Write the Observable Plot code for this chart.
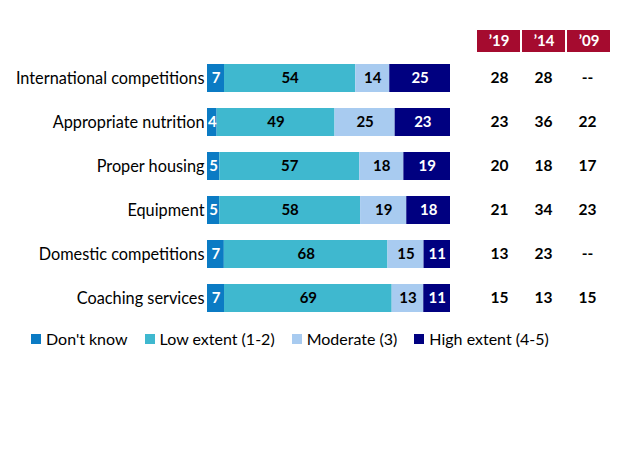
<!DOCTYPE html>
<html>
<head>
<meta charset="utf-8">
<script src="https://cdn.jsdelivr.net/npm/d3@7"></script>
<script src="https://cdn.jsdelivr.net/npm/@observablehq/plot@0.6"></script>
<style>
  body { margin: 0; background: #fff; }
  #wrap { position: relative; width: 624px; height: 468px; background: #fff; font-family: Lato, "Open Sans", sans-serif; }
  #wrap > div { position: absolute; margin: 0; }
  #bars { left: 0; top: 0; }
  #table { left: 0; top: 0; }
  #header { left: 0; top: 30px; }
  #legend { left: 31px; top: 322px; }
</style>
</head>
<body>
<div id="wrap">
  <div id="bars"></div>
  <div id="table"></div>
  <div id="header"></div>
  <div id="legend"></div>
</div>
<script>
const categories = ["International competitions", "Appropriate nutrition", "Proper housing", "Equipment", "Domestic competitions", "Coaching services"];
const series = ["Don't know", "Low extent (1-2)", "Moderate (3)", "High extent (4-5)"];
const seriesColors = ["#0b7bc4", "#3fb8cf", "#a8cbf0", "#000080"];
const darkSeries = ["Don't know", "High extent (4-5)"];
const dontKnow = [7, 4, 5, 5, 7, 7];
const lowExtent = [54, 49, 57, 58, 68, 69];
const moderate = [14, 25, 18, 19, 15, 13];
const highExtent = [25, 23, 19, 18, 11, 11];
const years = ["\u201919", "\u201914", "\u201909"];
const y2019 = [28, 23, 20, 21, 13, 15];
const y2014 = [28, 36, 18, 34, 23, 13];
const y2009 = ["--", 22, 17, 23, "--", 15];

const seriesValues = [dontKnow, lowExtent, moderate, highExtent];
const rows = categories.flatMap((c, i) => series.map((s, j) => ({category: c, series: s, value: seriesValues[j][i]})));
const yearValues = [y2019, y2014, y2009];
const tableRows = categories.flatMap((c, i) => years.map((yr, j) => ({category: c, year: yr, v: yearValues[j][i]})));

const H = 330, MT = 53.6, MB = 7.6;
const yOpts = {domain: categories, paddingInner: 0.375, paddingOuter: 0.1875, label: null};
const font = "Lato, 'Open Sans', sans-serif";

const stackOpts = {offset: "normalize", x: "value", y: "category", order: series};

const bars = Plot.plot({
  width: 460, height: H, marginLeft: 207, marginRight: 10, marginTop: MT, marginBottom: MB,
  style: {fontFamily: font, color: "#000", background: "transparent"},
  x: {domain: [0, 1], axis: null},
  y: {...yOpts, axis: null},
  color: {domain: series, range: seriesColors},
  marks: [
    Plot.barX(rows, Plot.stackX({...stackOpts, fill: "series"})),
    Plot.text(rows, Plot.filter(d => darkSeries.includes(d.series), Plot.stackX({...stackOpts, z: "series", text: "value", fill: "white", fontWeight: "bold", fontSize: 15}))),
    Plot.text(rows, Plot.filter(d => !darkSeries.includes(d.series), Plot.stackX({...stackOpts, z: "series", text: "value", fill: "black", fontWeight: "bold", fontSize: 15}))),
    Plot.axisY({tickSize: 0, tickPadding: 3, fontSize: 16.3, fill: "#000"})
  ]
});
document.getElementById("bars").appendChild(bars);

const table = Plot.plot({
  width: 624, height: H, marginLeft: 476, marginRight: 14, marginTop: MT, marginBottom: MB,
  style: {fontFamily: font, color: "#000", background: "transparent"},
  x: {domain: years, axis: null, paddingInner: 0.05, paddingOuter: 0},
  y: {...yOpts, axis: null},
  marks: [
    Plot.text(tableRows, {x: "year", y: "category", text: "v", fontWeight: "bold", fontSize: 15.5, fill: "black"})
  ]
});
document.getElementById("table").appendChild(table);

const header = Plot.plot({
  width: 624, height: 22, marginLeft: 476, marginRight: 14, marginTop: 0, marginBottom: 0,
  style: {fontFamily: font, background: "transparent"},
  x: {domain: years, axis: null, paddingInner: 0.05, paddingOuter: 0},
  marks: [
    Plot.cell(years, {x: d => d, fill: "#a50b2f"}),
    Plot.text(years, {x: d => d, text: d => d, fill: "white", fontWeight: "bold", fontSize: 15})
  ]
});
document.getElementById("header").appendChild(header);

const legend = Plot.legend({
  color: {domain: series, range: seriesColors},
  legend: "swatches",
  swatchSize: 10,
  className: "lg",
  style: {fontFamily: font, fontSize: "16px", color: "#000"}
});
document.getElementById("legend").appendChild(legend);
</script>
<style>
  .lg-swatch { margin-right: 17px !important; }
  .lg-swatch > svg { margin-right: 5px !important; }
</style>
</body>
</html>
